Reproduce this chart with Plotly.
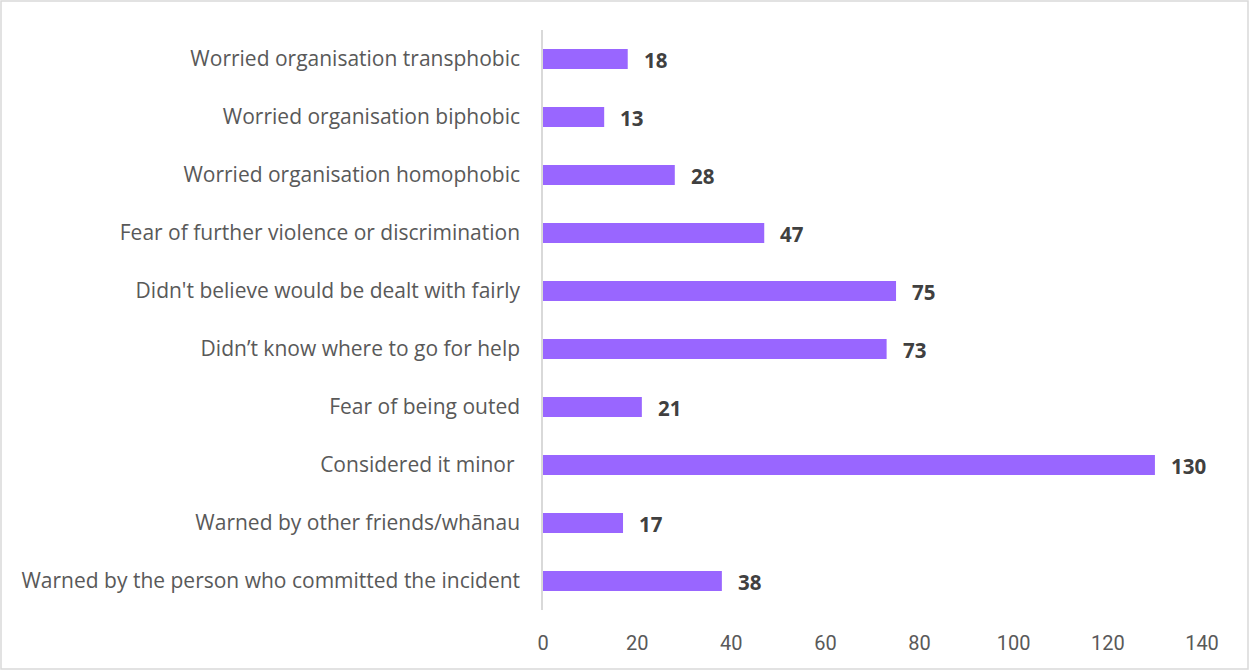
import plotly.graph_objects as go

categories = [
    "Worried organisation transphobic",
    "Worried organisation biphobic",
    "Worried organisation homophobic",
    "Fear of further violence or discrimination",
    "Didn't believe would be dealt with fairly",
    "Didn\u2019t know where to go for help",
    "Fear of being outed",
    "Considered it minor ",
    "Warned by other friends/wh\u0101nau",
    "Warned by the person who committed the incident",
]
values = [18, 13, 28, 47, 75, 73, 21, 130, 17, 38]
x_ticks = [0, 20, 40, 60, 80, 100, 120, 140]

W, H = 1250, 671
L, R, T, B = 543, 48, 30, 61
pw, ph = W - L - R, H - T - B

fig = go.Figure()
fig.add_trace(go.Bar(
    y=categories, x=values, orientation="h",
    marker=dict(color="#9966FF", line=dict(width=0)),
    width=0.345,
    hoverinfo="x+y",
))
for c, v in zip(categories, values):
    fig.add_annotation(x=v, y=c, text=f"<b>{v}</b>", showarrow=False,
                       xanchor="left", xshift=14, yshift=-1,
                       font=dict(family="Open Sans, sans-serif", size=20.5, color="#404040"))

fig.update_layout(
    width=W, height=H,
    margin=dict(l=L, r=R, t=T, b=B, pad=0),
    paper_bgcolor="white", plot_bgcolor="white",
    showlegend=False,
    font=dict(family="Open Sans, sans-serif", size=21, color="#595959"),
    xaxis=dict(range=[0, 140], tickvals=x_ticks, showgrid=False, zeroline=False,
               showline=False, ticks="",
               tickfont=dict(family="Roboto, sans-serif", size=20, color="#595959"),
               ticklabelstandoff=19, fixedrange=True),
    yaxis=dict(autorange="reversed", showgrid=False, zeroline=False,
               showline=True, linecolor="#d9d9d9", linewidth=1.5, ticks="",
               ticklabelstandoff=17, tickfont=dict(size=21, color="#595959")),
    shapes=[dict(type="rect", xref="paper", yref="paper",
                 x0=(-L + 1) / pw, x1=1 + (R - 2) / pw,
                 y0=(-B + 2) / ph, y1=1 + (T - 1) / ph,
                 line=dict(color="#d9d9d9", width=1.5), fillcolor="rgba(0,0,0,0)")],
)
fig.write_html("out.html", config={"displayModeBar": False},
               post_script="document.body.style.margin='0';document.body.style.overflow='hidden';")
